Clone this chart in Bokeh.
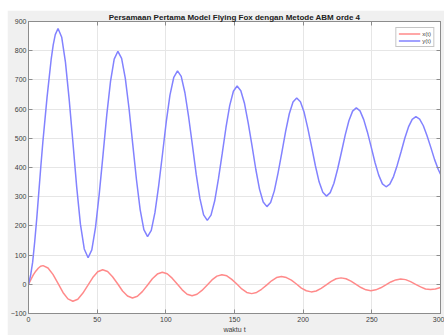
from bokeh.plotting import figure
from bokeh.models import Range1d, LinearAxis, FixedTicker
from bokeh.embed import file_html
from bokeh.resources import INLINE

title_text = "Persamaan Pertama Model Flying Fox dengan Metode ABM orde 4"
xlabel_text = "waktu t"
x_ticks = [0, 50, 100, 150, 200, 250, 300]
y_ticks = [-100, 0, 100, 200, 300, 400, 500, 600, 700, 800, 900]

# y(t)
t_y = [0, 1.5, 3, 4.5, 6, 7.5, 9, 10.5, 12, 13.5, 15, 16.5, 18, 19.5, 21.5,
       24.2, 26.9, 29.6, 32.4, 35.1, 37.8, 40.6, 43.4,
       46.1, 48.8, 51.5, 54.3, 57.0, 59.7, 62.4, 65.1,
       67.8, 70.5, 73.2, 75.9, 78.6, 81.3, 84.0, 86.7,
       89.4, 92.1, 94.8, 97.6, 100.3, 103.0, 105.8, 108.5,
       111.2, 113.9, 116.6, 119.4, 122.1, 124.8, 127.5, 130.2,
       132.9, 135.6, 138.3, 141.1, 143.8, 146.5, 149.2, 151.9,
       154.6, 157.3, 160.0, 162.8, 165.5, 168.2, 170.9, 173.6,
       176.3, 179.0, 181.7, 184.5, 187.2, 189.9, 192.6, 195.3,
       198.0, 200.7, 203.4, 206.2, 208.9, 211.6, 214.3, 217.0,
       219.7, 222.4, 225.1, 227.9, 230.6, 233.3, 236.0, 238.7,
       241.4, 244.1, 246.8, 249.6, 252.3, 255.0, 257.7, 260.4,
       263.1, 265.8, 268.5, 271.3, 274.0, 276.7, 279.4, 282.1,
       284.8, 287.5, 290.2, 293.0, 295.7, 298.4, 300.0]
y_vals = [0, 30, 75, 145, 225, 315, 405, 490, 565, 640, 705, 770, 820, 855, 876,
          846, 761, 634, 483, 333, 206, 121, 91,
          118, 195, 309, 445, 580, 694, 771, 798,
          774, 705, 602, 480, 359, 256, 187, 163,
          185, 246, 338, 447, 556, 648, 709, 731,
          712, 656, 573, 475, 377, 294, 238, 219,
          237, 286, 361, 449, 537, 612, 661, 679,
          663, 619, 552, 473, 394, 326, 282, 266,
          280, 320, 381, 452, 523, 584, 624, 638,
          625, 589, 534, 470, 406, 351, 315, 302,
          314, 346, 395, 453, 511, 560, 593, 604,
          594, 564, 521, 469, 417, 374, 344, 334,
          343, 369, 408, 454, 500, 539, 565, 574,
          566, 543, 509, 468, 427, 393, 377]

# x(t)
t_x = [0, 1.8, 3.5, 5.3, 7.1, 8.8, 10.6,
       14.2, 17.8, 21.5, 25.1, 28.7, 32.3,
       35.9, 39.5, 43.2, 46.8, 50.4, 54.0,
       57.6, 61.2, 64.9, 68.5, 72.1, 75.7,
       79.3, 82.9, 86.6, 90.2, 93.8, 97.4,
       101.0, 104.6, 108.3, 111.9, 115.5, 119.1,
       122.7, 126.3, 130.0, 133.6, 137.2, 140.8,
       144.4, 148.0, 151.7, 155.3, 158.9, 162.5,
       166.1, 169.7, 173.4, 177.0, 180.6, 184.2,
       187.8, 191.4, 195.1, 198.7, 202.3, 205.9,
       209.5, 213.1, 216.8, 220.4, 224.0, 227.6,
       231.2, 234.8, 238.5, 242.1, 245.7, 249.3,
       252.9, 256.5, 260.2, 263.8, 267.4, 271.0,
       274.6, 278.2, 281.9, 285.5, 289.1, 292.7,
       296.3, 300.0]
x_vals = [0, 17, 32, 45, 55, 62, 64,
          56, 34, 3, -28, -50, -58,
          -51, -31, -4, 23, 43, 50,
          44, 26, 2, -23, -40, -47,
          -41, -25, -3, 19, 35, 41,
          36, 21, 1, -19, -34, -39,
          -34, -21, -3, 15, 28, 33,
          29, 17, 1, -16, -28, -32,
          -28, -17, -3, 12, 23, 27,
          23, 14, 1, -13, -22, -26,
          -23, -14, -2, 10, 19, 22,
          19, 11, 0, -11, -19, -22,
          -19, -12, -2, 8, 15, 18,
          16, 9, 0, -9, -16, -18,
          -16, -11]

FONT = "Liberation Sans"
AX = "#8c8c8c"
TXT = "#404040"

p = figure(width=437, height=325, output_backend="svg", toolbar_location=None,
           x_range=Range1d(0, 300), y_range=Range1d(-100, 900),
           min_border_left=20, min_border_right=4, min_border_top=0, min_border_bottom=0,
           background_fill_color="white", border_fill_color="#f0f0f0",
           title=title_text)
p.margin = (10, 0, 0, 7)
p.outline_line_color = AX
p.outline_line_width = 1

p.title.align = "center"
p.title.text_font = FONT
p.title.text_font_size = "8px"
p.title.text_font_style = "bold"
p.title.text_color = "#202020"
p.title.standoff = 0
p.title.offset = 0

def style_axis(ax, ticks, show_labels=True):
    ax.ticker = FixedTicker(ticks=ticks)
    ax.axis_line_color = AX
    ax.major_tick_line_color = AX
    ax.minor_tick_line_color = None
    ax.major_tick_in = 4
    ax.major_tick_out = 0
    ax.major_label_text_font = FONT
    ax.major_label_text_color = TXT
    if show_labels:
        ax.major_label_text_font_size = "7px"
        ax.major_label_standoff = 3
    else:
        ax.major_label_text_font_size = "0px"
        ax.major_label_standoff = 0
        ax.major_label_overrides = {t: "" for t in ticks}

style_axis(p.xaxis[0], x_ticks)
style_axis(p.yaxis[0], y_ticks)
p.yaxis[0].major_label_standoff = 2
p.xaxis[0].axis_label = xlabel_text
p.xaxis[0].axis_label_text_font = FONT
p.xaxis[0].axis_label_text_font_size = "7px"
p.xaxis[0].axis_label_text_font_style = "normal"
p.xaxis[0].axis_label_text_color = TXT
p.xaxis[0].axis_label_standoff = 1

top_ax = LinearAxis()
style_axis(top_ax, x_ticks, show_labels=False)
p.add_layout(top_ax, "above")
right_ax = LinearAxis()
style_axis(right_ax, y_ticks, show_labels=False)
p.add_layout(right_ax, "right")

p.xgrid.ticker = FixedTicker(ticks=x_ticks)
p.ygrid.ticker = FixedTicker(ticks=y_ticks)
p.xgrid.grid_line_color = "#e6e6e6"
p.ygrid.grid_line_color = "#e6e6e6"

p.line(t_x, x_vals, line_color="#ff8a8a", line_width=1.5, legend_label="x(t)")
p.line(t_y, y_vals, line_color="#8282ff", line_width=1.5, legend_label="y(t)")

lg = p.legend[0]
lg.location = "top_right"
lg.margin = 6
lg.padding = 2
lg.spacing = 0
lg.glyph_width = 22
lg.glyph_height = 7
lg.label_height = 7
lg.label_width = 8
lg.label_standoff = 2
lg.label_text_font = FONT
lg.label_text_font_size = "6px"
lg.label_text_color = TXT
lg.border_line_color = AX
lg.background_fill_color = "white"
lg.background_fill_alpha = 1

open("out.html", "w").write(file_html(p, INLINE))
